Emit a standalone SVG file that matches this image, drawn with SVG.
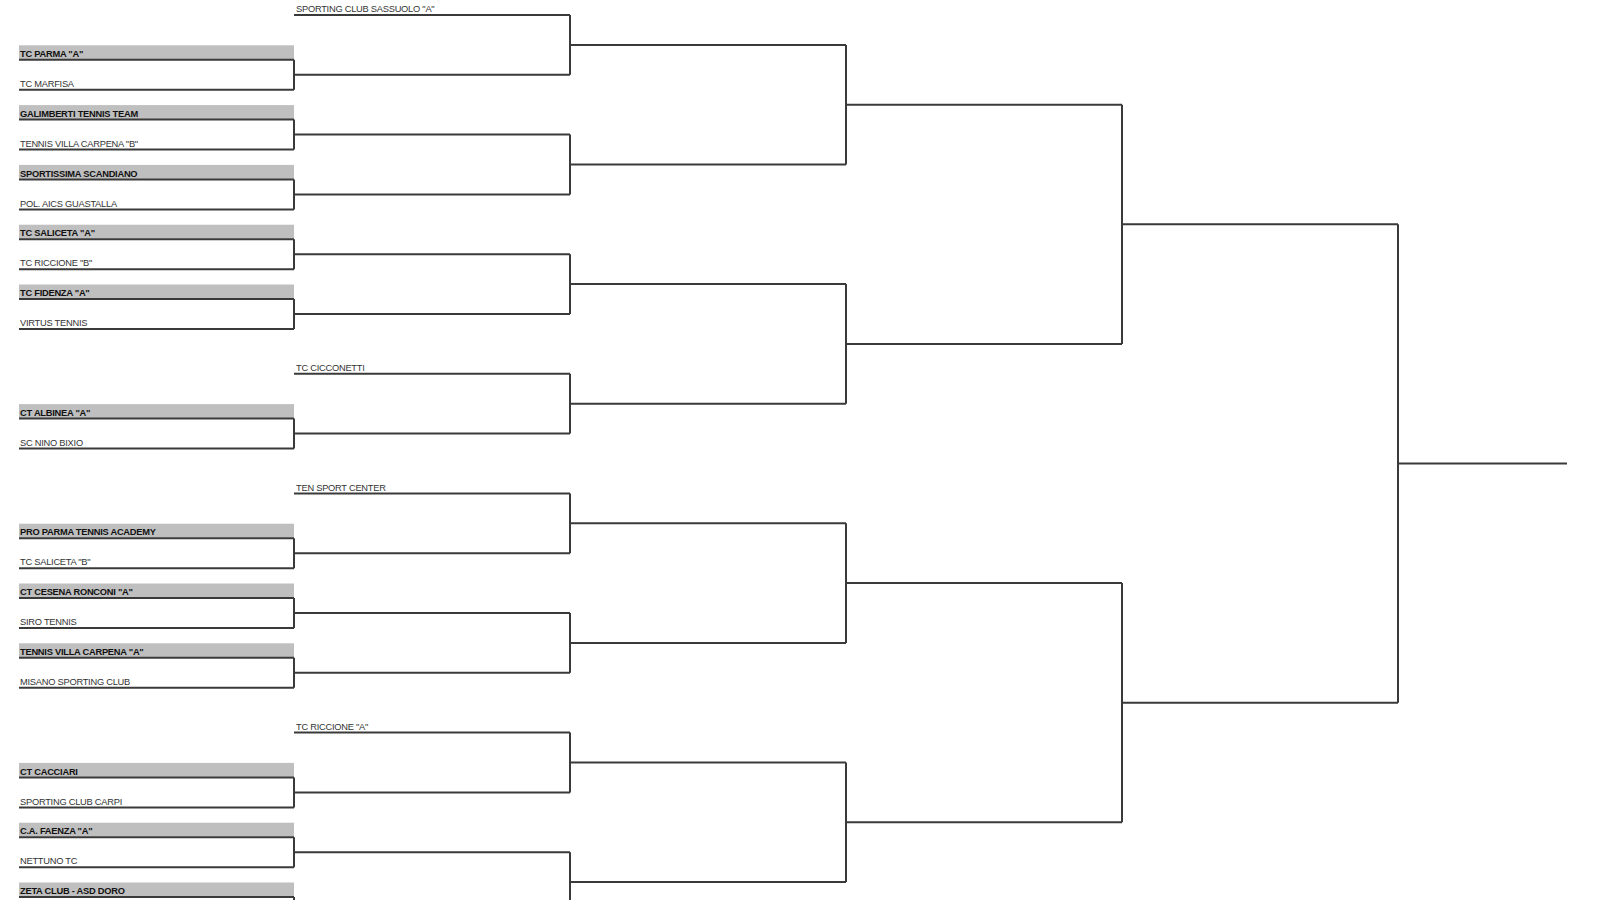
<svg xmlns="http://www.w3.org/2000/svg" width="1600" height="900" viewBox="0 0 1600 900">
<style>
.bg{fill:#ffffff}
.seed{fill:#bfbfbf}
.ln{fill:none;stroke:#3a3a3a;stroke-width:2}
.t{font-family:"Liberation Sans",Arial,sans-serif;font-size:9.3px;letter-spacing:-0.25px;fill:#333}
.b{font-weight:bold;fill:#111}
</style>
<rect class="bg" x="0" y="0" width="1600" height="900"/>

<g id="connectors">
<!-- round 1 matches: vertical + winner line -->
<path class="ln" d="M294 59.8V89.8M294 74.8H570"/>
<path class="ln" d="M294 119.6V149.6M294 134.6H570"/>
<path class="ln" d="M294 179.4V209.4M294 194.4H570"/>
<path class="ln" d="M294 239.2V269.2M294 254.2H570"/>
<path class="ln" d="M294 299V329M294 314H570"/>
<path class="ln" d="M294 418.6V448.6M294 433.6H570"/>
<path class="ln" d="M294 538.2V568.2M294 553.2H570"/>
<path class="ln" d="M294 598V628M294 613H570"/>
<path class="ln" d="M294 657.8V687.8M294 672.8H570"/>
<path class="ln" d="M294 777.4V807.4M294 792.4H570"/>
<path class="ln" d="M294 837.2V867.2M294 852.2H570"/>
<path class="ln" d="M294 897V905"/>
<!-- round 2 -->
<path class="ln" d="M570 15V74.8M570 44.9H846"/>
<path class="ln" d="M570 134.6V194.4M570 164.5H846"/>
<path class="ln" d="M570 254.2V314M570 284.1H846"/>
<path class="ln" d="M570 373.8V433.6M570 403.7H846"/>
<path class="ln" d="M570 493.4V553.2M570 523.3H846"/>
<path class="ln" d="M570 613V672.8M570 642.9H846"/>
<path class="ln" d="M570 732.6V792.4M570 762.5H846"/>
<path class="ln" d="M570 852.2V905M570 882.1H846"/>
<!-- round 3 -->
<path class="ln" d="M846 44.9V164.5M846 104.7H1122"/>
<path class="ln" d="M846 284.1V403.7M846 343.9H1122"/>
<path class="ln" d="M846 523.3V642.9M846 583.1H1122"/>
<path class="ln" d="M846 762.5V882.1M846 822.3H1122"/>
<!-- round 4 -->
<path class="ln" d="M1122 104.7V343.9M1122 224.3H1398"/>
<path class="ln" d="M1122 583.1V822.3M1122 702.7H1398"/>
<!-- semifinal -->
<path class="ln" d="M1398 224.3V702.7M1398 463.5H1567"/>
</g>

<g id="sporting-club-sassuolo-a"><path class="ln" d="M294 15H570"/><text class="t" x="296" y="12">SPORTING CLUB SASSUOLO "A"</text></g>

<g id="tc-parma-a"><rect class="seed" x="19" y="45.3" width="275" height="14"/><path class="ln" d="M19 59.8H294"/><text class="t b" x="20" y="57">TC PARMA "A"</text></g>
<g id="tc-marfisa"><path class="ln" d="M19 89.8H294"/><text class="t" x="20" y="87">TC MARFISA</text></g>

<g id="galimberti-tennis-team"><rect class="seed" x="19" y="105.1" width="275" height="14"/><path class="ln" d="M19 119.6H294"/><text class="t b" x="20" y="116.8">GALIMBERTI TENNIS TEAM</text></g>
<g id="tennis-villa-carpena-b"><path class="ln" d="M19 149.6H294"/><text class="t" x="20" y="146.8">TENNIS VILLA CARPENA "B"</text></g>

<g id="sportissima-scandiano"><rect class="seed" x="19" y="164.9" width="275" height="14"/><path class="ln" d="M19 179.4H294"/><text class="t b" x="20" y="176.6">SPORTISSIMA SCANDIANO</text></g>
<g id="pol-aics-guastalla"><path class="ln" d="M19 209.4H294"/><text class="t" x="20" y="206.6">POL. AICS GUASTALLA</text></g>

<g id="tc-saliceta-a"><rect class="seed" x="19" y="224.7" width="275" height="14"/><path class="ln" d="M19 239.2H294"/><text class="t b" x="20" y="236.4">TC SALICETA "A"</text></g>
<g id="tc-riccione-b"><path class="ln" d="M19 269.2H294"/><text class="t" x="20" y="266.4">TC RICCIONE "B"</text></g>

<g id="tc-fidenza-a"><rect class="seed" x="19" y="284.5" width="275" height="14"/><path class="ln" d="M19 299H294"/><text class="t b" x="20" y="296.2">TC FIDENZA "A"</text></g>
<g id="virtus-tennis"><path class="ln" d="M19 329H294"/><text class="t" x="20" y="326.2">VIRTUS TENNIS</text></g>

<g id="tc-cicconetti"><path class="ln" d="M294 373.8H570"/><text class="t" x="296" y="371">TC CICCONETTI</text></g>

<g id="ct-albinea-a"><rect class="seed" x="19" y="404.1" width="275" height="14"/><path class="ln" d="M19 418.6H294"/><text class="t b" x="20" y="415.8">CT ALBINEA "A"</text></g>
<g id="sc-nino-bixio"><path class="ln" d="M19 448.6H294"/><text class="t" x="20" y="445.8">SC NINO BIXIO</text></g>

<g id="ten-sport-center"><path class="ln" d="M294 493.4H570"/><text class="t" x="296" y="490.6">TEN SPORT CENTER</text></g>

<g id="pro-parma-tennis-academy"><rect class="seed" x="19" y="523.7" width="275" height="14"/><path class="ln" d="M19 538.2H294"/><text class="t b" x="20" y="535.4">PRO PARMA TENNIS ACADEMY</text></g>
<g id="tc-saliceta-b"><path class="ln" d="M19 568.2H294"/><text class="t" x="20" y="565.4">TC SALICETA "B"</text></g>

<g id="ct-cesena-ronconi-a"><rect class="seed" x="19" y="583.5" width="275" height="14"/><path class="ln" d="M19 598H294"/><text class="t b" x="20" y="595.2">CT CESENA RONCONI "A"</text></g>
<g id="siro-tennis"><path class="ln" d="M19 628H294"/><text class="t" x="20" y="625.2">SIRO TENNIS</text></g>

<g id="tennis-villa-carpena-a"><rect class="seed" x="19" y="643.3" width="275" height="14"/><path class="ln" d="M19 657.8H294"/><text class="t b" x="20" y="655">TENNIS VILLA CARPENA "A"</text></g>
<g id="misano-sporting-club"><path class="ln" d="M19 687.8H294"/><text class="t" x="20" y="685">MISANO SPORTING CLUB</text></g>

<g id="tc-riccione-a"><path class="ln" d="M294 732.6H570"/><text class="t" x="296" y="729.8">TC RICCIONE "A"</text></g>

<g id="ct-cacciari"><rect class="seed" x="19" y="762.9" width="275" height="14"/><path class="ln" d="M19 777.4H294"/><text class="t b" x="20" y="774.6">CT CACCIARI</text></g>
<g id="sporting-club-carpi"><path class="ln" d="M19 807.4H294"/><text class="t" x="20" y="804.6">SPORTING CLUB CARPI</text></g>

<g id="ca-faenza-a"><rect class="seed" x="19" y="822.7" width="275" height="14"/><path class="ln" d="M19 837.2H294"/><text class="t b" x="20" y="834.4">C.A. FAENZA "A"</text></g>
<g id="nettuno-tc"><path class="ln" d="M19 867.2H294"/><text class="t" x="20" y="864.4">NETTUNO TC</text></g>

<g id="zeta-club-asd-doro"><rect class="seed" x="19" y="882.5" width="275" height="14"/><path class="ln" d="M19 897H294"/><text class="t b" x="20" y="894.2">ZETA CLUB - ASD DORO</text></g>
</svg>
